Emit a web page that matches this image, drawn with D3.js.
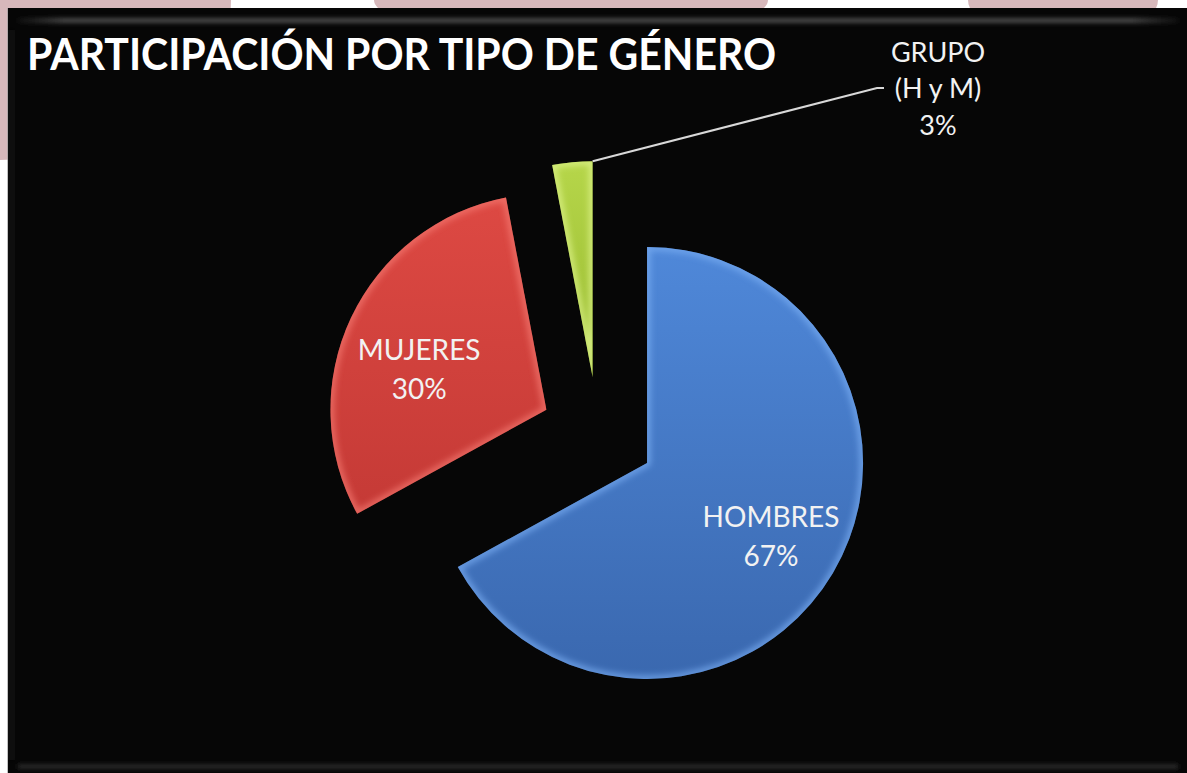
<!DOCTYPE html>
<html lang="es">
<head>
<meta charset="utf-8">
<title>Participación por tipo de género</title>
<script src="https://cdn.jsdelivr.net/npm/d3@7"></script>
<style>
  html, body { margin: 0; padding: 0; background: #ffffff; }
  svg { display: block; }
</style>
</head>
<body>
<svg id="chart" width="1187" height="773"></svg>
<script>
// Participation by gender type (percent of total)
const categories = ["HOMBRES", "MUJERES", "GRUPO (H y M)"];
const values = [67, 30, 3];
const labelNames = [["HOMBRES"], ["MUJERES"], ["GRUPO", "(H y M)"]];
const chartTitle = "PARTICIPACIÓN POR TIPO DE GÉNERO";

// Styling
const palette = [
  { top: "#4f88d9", bottom: "#3a68af", edge: "#79aef2" },
  { top: "#dd4943", bottom: "#c53a36", edge: "#f47a72" },
  { top: "#b6d64a", bottom: "#98ba30", edge: "#e0f590" }
];
// small manual nudges for the inside labels (best-fit placement)
const insideNudge = [[0, 0], [3, 21]];

const W = 1187, H = 773;
const svg = d3.select("#chart");
const defs = svg.append("defs");

// ---- page background around the panel
const bg = svg.append("g");
bg.append("rect").attr("width", W).attr("height", H).attr("fill", "#ffffff");
[[0, 0, 231, 160], [571, 0, 197, 40], [1063, 0, 95, 40]].forEach(([x, y, rx, ry]) => {
  bg.append("ellipse").attr("cx", x).attr("cy", y).attr("rx", rx).attr("ry", ry).attr("fill", "#d7b8bb");
});

// ---- black panel
const panel = { x: 8, y: 8, w: W - 8, h: H - 8 };
bg.append("rect").attr("x", panel.x - 1).attr("y", panel.y).attr("width", 1).attr("height", panel.h)
  .attr("fill", "#9a9a9a").attr("opacity", 0.6);
bg.append("rect").attr("x", panel.x).attr("y", panel.y).attr("width", panel.w).attr("height", panel.h)
  .attr("fill", "#060606");

const soft = defs.append("filter").attr("id", "soft").attr("x", "-5%").attr("y", "-200%").attr("width", "110%").attr("height", "500%");
soft.append("feGaussianBlur").attr("stdDeviation", 2);

const hl = defs.append("linearGradient").attr("id", "hl").attr("x1", 0).attr("x2", 1).attr("y1", 0).attr("y2", 0);
hl.append("stop").attr("offset", "0%").attr("stop-color", "#3a3a3a").attr("stop-opacity", 0.2);
hl.append("stop").attr("offset", "4%").attr("stop-color", "#4a4a4a").attr("stop-opacity", 1);
hl.append("stop").attr("offset", "96%").attr("stop-color", "#4a4a4a").attr("stop-opacity", 1);
hl.append("stop").attr("offset", "100%").attr("stop-color", "#3a3a3a").attr("stop-opacity", 0.2);

bg.append("rect").attr("x", 18).attr("y", 18).attr("width", 1160).attr("height", 5)
  .attr("fill", "url(#hl)").attr("filter", "url(#soft)");
bg.append("rect").attr("x", 18).attr("y", 764).attr("width", 1160).attr("height", 5)
  .attr("fill", "#2a2a2a").attr("filter", "url(#soft)");
bg.append("rect").attr("x", 9).attr("y", 30).attr("width", 5).attr("height", 730)
  .attr("fill", "#141414").attr("filter", "url(#soft)");

// ---- title
svg.append("text")
  .attr("x", 27).attr("y", 70)
  .attr("font-family", "Lato, 'Open Sans', sans-serif")
  .attr("font-weight", 700)
  .attr("font-size", 44)
  .attr("fill", "#ffffff")
  .attr("textLength", 749)
  .attr("lengthAdjust", "spacingAndGlyphs")
  .text(chartTitle);

// ---- pie
const cx = 598, cy = 434;
const radius = 216;
const explode = 57;

const pie = d3.pie().sort(null).value(d => d).startAngle(0).endAngle(2 * Math.PI);
const arcs = pie(values);
const arc = d3.arc().innerRadius(0).outerRadius(radius);

const mid = d => (d.startAngle + d.endAngle) / 2;
const polar = (a, r) => [Math.sin(a) * r, -Math.cos(a) * r];

const blur = defs.append("filter").attr("id", "bevel").attr("x", "-20%").attr("y", "-20%").attr("width", "140%").attr("height", "140%");
blur.append("feGaussianBlur").attr("stdDeviation", 3);

palette.forEach((p, i) => {
  const g = defs.append("linearGradient").attr("id", "grad" + i)
    .attr("x1", 0).attr("y1", 0).attr("x2", 0).attr("y2", 1);
  g.append("stop").attr("offset", "0%").attr("stop-color", p.top);
  g.append("stop").attr("offset", "100%").attr("stop-color", p.bottom);
  defs.append("clipPath").attr("id", "clip" + i)
    .append("path").attr("d", arc(arcs[i]));
});

const pieG = svg.append("g").attr("transform", `translate(${cx},${cy})`);

const slices = pieG.selectAll("g.slice")
  .data(arcs)
  .join("g")
  .attr("class", "slice")
  .attr("transform", d => {
    const [dx, dy] = polar(mid(d), explode);
    return `translate(${dx},${dy})`;
  });

slices.append("path")
  .attr("d", arc)
  .attr("fill", (d, i) => `url(#grad${i})`);

// soft lighter rim inside each slice
slices.append("g")
  .attr("clip-path", (d, i) => `url(#clip${i})`)
  .append("path")
  .attr("d", arc)
  .attr("fill", "none")
  .attr("stroke", (d, i) => palette[i].edge)
  .attr("stroke-width", 7)
  .attr("stroke-opacity", 0.75)
  .attr("filter", "url(#bevel)");

// ---- labels inside the two large slices
const fontFam = "Lato, 'Open Sans', sans-serif";
const insideR = 144;
const lineH = 39;

slices.filter((d, i) => i < 2).each(function (d, i) {
  const [px, py] = polar(mid(d), insideR);
  const lx = px + insideNudge[i][0], ly = py + insideNudge[i][1];
  const lines = labelNames[i].concat([`${values[i]}%`]);
  const t = d3.select(this).append("text")
    .attr("text-anchor", "middle")
    .attr("font-family", fontFam)
    .attr("font-size", 28)
    .attr("fill", "#f2f2f2");
  lines.forEach((s, k) => {
    t.append("tspan")
      .attr("x", lx)
      .attr("y", ly - (lines.length - 1) * lineH / 2 + k * lineH + 10)
      .text(s);
  });
});

// ---- outside label with leader for the small slice
const small = arcs[2];
const [sx, sy] = polar(mid(small), explode);
const [ex, ey] = polar(small.endAngle, radius);
const start = [sx + ex, sy + ey];
const elbow = [279, -346];
const tail = [elbow[0] + 7, elbow[1]];

pieG.append("path")
  .attr("d", d3.line()([start, elbow, tail]))
  .attr("fill", "none")
  .attr("stroke", "#d8d8d8")
  .attr("stroke-width", 2);

const outLines = labelNames[2].concat([`${values[2]}%`]);
const outH = 36.5;
const ot = pieG.append("text")
  .attr("text-anchor", "middle")
  .attr("font-family", fontFam)
  .attr("font-size", 27)
  .attr("fill", "#f2f2f2");
outLines.forEach((s, k) => {
  ot.append("tspan")
    .attr("x", tail[0] + 54)
    .attr("y", elbow[1] - (outLines.length - 1) * outH / 2 + k * outH + 10)
    .text(s);
});
</script>
</body>
</html>
